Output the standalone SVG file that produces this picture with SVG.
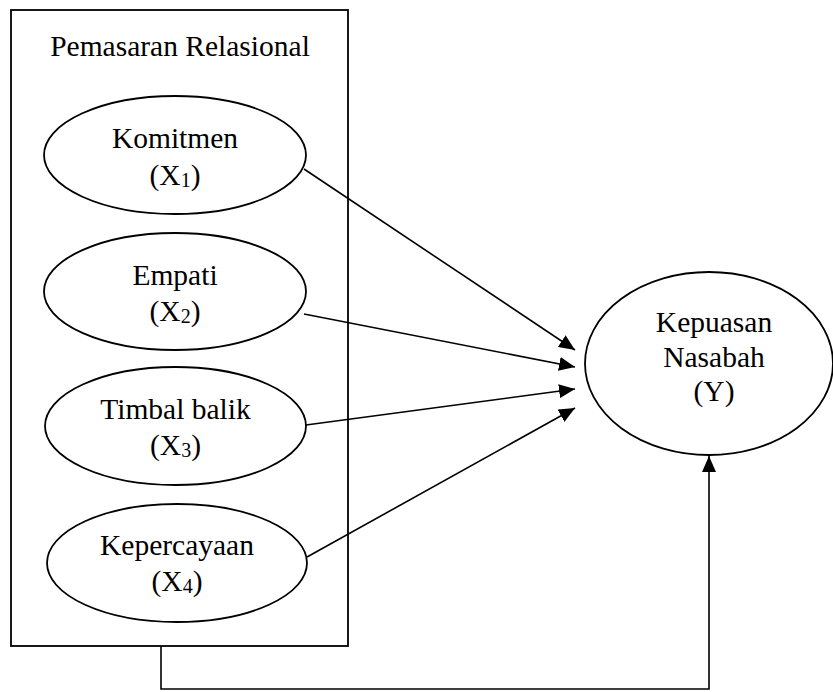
<svg xmlns="http://www.w3.org/2000/svg" width="833" height="692" viewBox="0 0 833 692" font-family="'Liberation Serif', 'Times New Roman', Times, 'DejaVu Serif', serif">
<style>
  .shape { fill: #ffffff; stroke: #000000; stroke-width: 1.8; }
  .frame { fill: none; stroke: #000000; stroke-width: 1.8; }
  .edge { fill: none; stroke: #000000; stroke-width: 1.6; }
  text { font-family: 'Liberation Serif', 'Times New Roman', Times, 'DejaVu Serif', serif; font-size: 29.5px; fill: #000000; text-anchor: middle; }
  .sub { font-size: 20px; }
</style>
<defs>
  <marker id="arrow" markerUnits="userSpaceOnUse" markerWidth="16" markerHeight="14" refX="16" refY="7" orient="auto">
    <path d="M0,0 L16,7 L0,14 z" fill="#000000"/>
  </marker>
</defs>
<rect width="833" height="692" fill="#ffffff"/>
<g id="group-pemasaran">
  <rect class="frame" x="11" y="10" width="337" height="636"/>
  <text x="180" y="56">Pemasaran Relasional</text>
</g>
<g id="connectors">
  <line class="edge" x1="304" y1="169" x2="575" y2="350" marker-end="url(#arrow)"/>
  <line class="edge" x1="304" y1="314" x2="575" y2="367" marker-end="url(#arrow)"/>
  <line class="edge" x1="306" y1="425" x2="575" y2="389" marker-end="url(#arrow)"/>
  <line class="edge" x1="307" y1="557" x2="575" y2="408" marker-end="url(#arrow)"/>
  <polyline class="edge" points="161,646 161,689 709,689 709,456" marker-end="url(#arrow)"/>
</g>
<g id="node-x1">
  <ellipse class="shape" cx="175" cy="155" rx="131" ry="59"/>
  <text x="175" y="148">Komitmen</text>
  <text x="175" y="185">(X<tspan class="sub" dy="2">1</tspan><tspan dy="-2">)</tspan></text>
</g>
<g id="node-x2">
  <ellipse class="shape" cx="175" cy="291.5" rx="131" ry="58.5"/>
  <text x="175" y="285">Empati</text>
  <text x="175" y="321">(X<tspan class="sub" dy="2">2</tspan><tspan dy="-2">)</tspan></text>
</g>
<g id="node-x3">
  <ellipse class="shape" cx="175.5" cy="426" rx="130.5" ry="59"/>
  <text x="175.5" y="419">Timbal balik</text>
  <text x="175.5" y="455">(X<tspan class="sub" dy="2">3</tspan><tspan dy="-2">)</tspan></text>
</g>
<g id="node-x4">
  <ellipse class="shape" cx="177" cy="563" rx="130" ry="59"/>
  <text x="177" y="555">Kepercayaan</text>
  <text x="177" y="591">(X<tspan class="sub" dy="2">4</tspan><tspan dy="-2">)</tspan></text>
</g>
<g id="node-y">
  <ellipse class="shape" cx="709" cy="363.5" rx="124" ry="91.5"/>
  <text x="714" y="332">Kepuasan</text>
  <text x="714" y="367">Nasabah</text>
  <text x="714" y="401">(Y)</text>
</g>
</svg>
